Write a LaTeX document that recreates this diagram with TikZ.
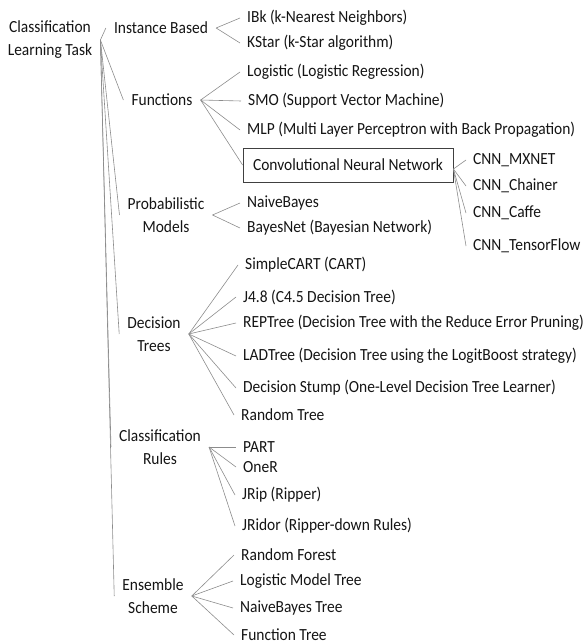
\documentclass[tikz,border=0pt]{standalone}
\usepackage{fontspec}
\setmainfont[FakeStretch=0.91]{Carlito}
\usepackage{tikz}

\tikzset{
  leaf/.style={anchor=west,inner xsep=7pt,inner ysep=1pt},
  cat/.style={align=center,inner xsep=8pt,inner ysep=1pt},
  branch/.style={draw=black!45,line width=0.6pt},
}

\begin{document}
\begin{tikzpicture}[x=1pt,y=-1pt,font=\fontsize{17}{23}\selectfont,text=black!92]
\useasboundingbox (0,0) rectangle (587,644);

\node[cat] (root) at (50,40) {Classification\\Learning Task};

\node[cat] (ib) at (161,28) {Instance Based};
\node[cat] (fn) at (162,100) {Functions};
\node[cat] (pm) at (166,215) {Probabilistic\\Models};
\node[cat] (dt) at (154,334) {Decision\\Trees};
\node[cat] (cr) at (160,447) {Classification\\Rules};
\node[cat] (es) at (153,596) {Ensemble\\Scheme};

\node[leaf] (ibk) at (240,18) {IBk (k-Nearest Neighbors)};
\node[leaf] (kstar) at (240,43) {KStar (k-Star algorithm)};
\node[leaf] (logi) at (240,72) {Logistic (Logistic Regression)};
\node[leaf] (smo) at (241,101) {SMO (Support Vector Machine)};
\node[leaf] (mlp) at (240,130) {MLP (Multi Layer Perceptron with Back Propagation)};
\node[draw=black!75,line width=0.8pt,minimum width=210pt,minimum height=34pt] (cnn) at (348,165) {Convolutional Neural Network};

\node[leaf] (mx) at (466,160) {CNN\_MXNET};
\node[leaf] (ch) at (466,186) {CNN\_Chainer};
\node[leaf] (caf) at (466,213) {CNN\_Caffe};
\node[leaf] (tf) at (466,246) {CNN\_TensorFlow};

\node[leaf] (nb) at (240,203) {NaiveBayes};
\node[leaf] (bn) at (240,228) {BayesNet (Bayesian Network)};

\node[leaf] (sc) at (238,265) {SimpleCART (CART)};
\node[leaf] (j48) at (236,297) {J4.8 (C4.5 Decision Tree)};
\node[leaf] (rep) at (236,323) {REPTree (Decision Tree with the Reduce Error Pruning)};
\node[leaf] (lad) at (236,356) {LADTree (Decision Tree using the LogitBoost strategy)};
\node[leaf] (stump) at (236,388) {Decision Stump (One-Level Decision Tree Learner)};
\node[leaf] (rt) at (234,415) {Random Tree};

\node[leaf] (part) at (236,447) {PART};
\node[leaf] (oner) at (236,467) {OneR};
\node[leaf] (jrip) at (235,495) {JRip (Ripper)};
\node[leaf] (jridor) at (235,526) {JRidor (Ripper-down Rules)};

\node[leaf] (rf) at (234,555) {Random Forest};
\node[leaf] (lmt) at (233,581) {Logistic Model Tree};
\node[leaf] (nbt) at (233,608) {NaiveBayes Tree};
\node[leaf] (ft) at (234,635) {Function Tree};

% root to categories
\draw[branch] (root.east) -- (ib.west);
\draw[branch] (root.east) -- (fn.west);
\draw[branch] (root.east) -- (pm.west);
\draw[branch] (root.east) -- (dt.west);
\draw[branch] (root.east) -- (cr.west);
\draw[branch] (root.east) -- (es.west);

% categories to methods
\draw[branch] (ib.east) -- (ibk.west);
\draw[branch] (ib.east) -- (kstar.west);
\draw[branch] (fn.east) -- (logi.west);
\draw[branch] (fn.east) -- (smo.west);
\draw[branch] (fn.east) -- (mlp.west);
\draw[branch] (fn.east) -- (cnn.west);
\draw[branch] (pm.east) -- (nb.west);
\draw[branch] (pm.east) -- (bn.west);
\draw[branch] (dt.east) -- (sc.west);
\draw[branch] (dt.east) -- (j48.west);
\draw[branch] (dt.east) -- (rep.west);
\draw[branch] (dt.east) -- (lad.west);
\draw[branch] (dt.east) -- (stump.west);
\draw[branch] (dt.east) -- (rt.west);
\draw[branch] (cr.east) -- (part.west);
\draw[branch] (cr.east) -- (oner.west);
\draw[branch] (cr.east) -- (jrip.west);
\draw[branch] (cr.east) -- (jridor.west);
\draw[branch] (es.east) -- (rf.west);
\draw[branch] (es.east) -- (lmt.west);
\draw[branch] (es.east) -- (nbt.west);
\draw[branch] (es.east) -- (ft.west);

% cnn frameworks
\draw[branch] ([yshift=-4pt]cnn.east) -- (mx.west);
\draw[branch] ([yshift=-4pt]cnn.east) -- (ch.west);
\draw[branch] ([yshift=-4pt]cnn.east) -- (caf.west);
\draw[branch] ([yshift=-4pt]cnn.east) -- (tf.west);
\end{tikzpicture}
\end{document}
